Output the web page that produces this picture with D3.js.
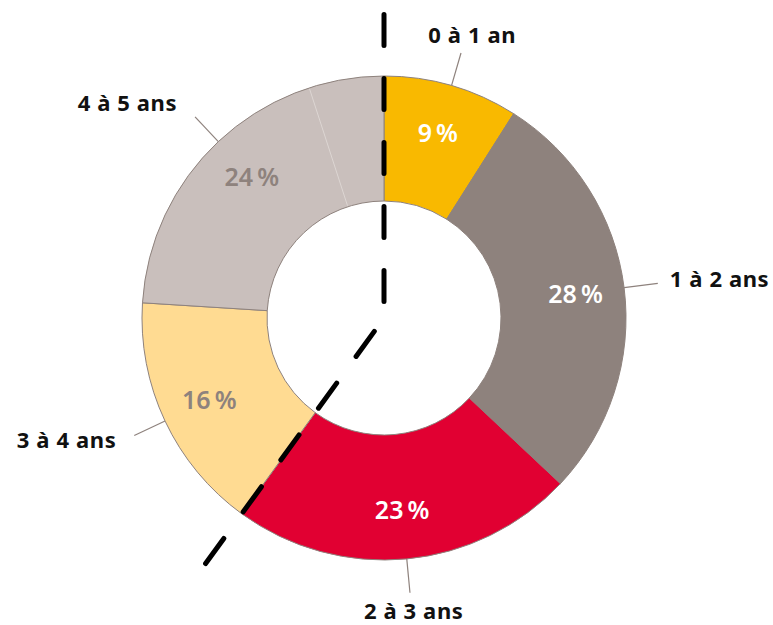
<!DOCTYPE html>
<html>
<head>
<meta charset="utf-8">
<script src="https://cdn.jsdelivr.net/npm/d3@7"></script>
<style>
  body { margin: 0; background: #fff; }
  svg { display: block; }
</style>
</head>
<body>
<svg id="chart" width="773" height="625"></svg>
<script>
// tranches d'age et parts (%)
var categories = ['0 à 1 an', '1 à 2 ans', '2 à 3 ans', '3 à 4 ans', '4 à 5 ans'];
var values = [9, 28, 23, 16, 24];
var colors = ['#f9b900', '#8e827d', '#e10032', '#ffdb92', '#c9bfbc'];
var labelColors = ['#fff', '#fff', '#fff', '#8e827d', '#8e827d'];
// la tranche 4 a 5 ans est en deux morceaux (trait clair)
var split45 = [19, 5];
// trait pointille : debut de la 1re tranche et fin de la 3e
var rayBounds = [0, 3];

var W = 773, H = 625;
var cx = 384, cy = 318;
var R = 242, r0 = 117;

var svg = d3.select('#chart');
var g = svg.append('g').attr('transform', 'translate(' + cx + ',' + cy + ')');

var pie = d3.pie().sort(null).value(function(d){ return d; });
var arcs = pie(values);
var arc = d3.arc().innerRadius(r0).outerRadius(R);

function pt(a, rad){ return [rad * Math.sin(a), -rad * Math.cos(a)]; }

g.selectAll('path.slice').data(arcs).enter().append('path')
	.attr('class', 'slice')
	.attr('d', arc)
	.attr('fill', function(d, i){ return colors[i]; })
	.attr('stroke', '#8e827d')
	.attr('stroke-width', 1);

// separateur clair dans 4 a 5 ans
var a45 = arcs[4];
var aSplit = a45.startAngle + (a45.endAngle - a45.startAngle) * split45[0] / d3.sum(split45);
var p1 = pt(aSplit, r0 + 1), p2 = pt(aSplit, R - 1);
g.append('line')
	.attr('x1', p1[0]).attr('y1', p1[1]).attr('x2', p2[0]).attr('y2', p2[1])
	.attr('stroke', '#ddd6d3').attr('stroke-width', 1);

// pourcentages
var labelArc = d3.arc().innerRadius(193).outerRadius(193);
g.selectAll('text.pct').data(arcs).enter().append('text')
	.attr('class', 'pct')
	.attr('x', function(d){ return labelArc.centroid(d)[0]; })
	.attr('y', function(d){ return labelArc.centroid(d)[1]; })
	.attr('dy', '0.36em')
	.attr('text-anchor', 'middle')
	.attr('font-family', 'Noto Sans, sans-serif')
	.attr('font-weight', 600)
	.attr('font-size', 25)
	.attr('fill', function(d, i){ return labelColors[i]; })
	.text(function(d){ return d.data + '\u202f%'; });

// reperes et etiquettes
var leadIn = R, leadOut = 276;
arcs.forEach(function(d, i){
	var a = (d.startAngle + d.endAngle) / 2;
	var s = pt(a, leadIn), e = pt(a, leadOut);
	g.append('line')
		.attr('x1', s[0]).attr('y1', s[1]).attr('x2', e[0]).attr('y2', e[1])
		.attr('stroke', '#8e827d').attr('stroke-width', 1.2);

	var sn = Math.sin(a), cs = Math.cos(a);
	var tx, ty, anchor;
	if (Math.abs(sn) > 0.3) {
		anchor = sn > 0 ? 'start' : 'end';
		tx = e[0] + (sn > 0 ? 12 : -18);
		ty = e[1] + 6 - 16 * cs;
	} else {
		anchor = 'middle';
		tx = e[0] + 8 * sn + (cs > 0 ? 9 : 3);
		ty = cs > 0 ? e[1] - 10 : e[1] + 26;
	}
	g.append('text')
		.attr('x', tx).attr('y', ty)
		.attr('text-anchor', anchor)
		.attr('font-family', 'Noto Sans, sans-serif')
		.attr('font-weight', 700)
		.attr('font-size', 22)
		.attr('letter-spacing', 0.6)
		.attr('fill', '#111')
		.text(categories[i]);
});

// trait pointille
var rayAngles = [arcs[rayBounds[0]].startAngle, arcs[rayBounds[1] - 1].endAngle];
var rayLen = 303.5;
g.selectAll('line.ray').data(rayAngles).enter().append('line')
	.attr('class', 'ray')
	.attr('x1', 0).attr('y1', 0)
	.attr('x2', function(a){ return pt(a, rayLen)[0]; })
	.attr('y2', function(a){ return pt(a, rayLen)[1]; })
	.attr('stroke', '#000')
	.attr('stroke-width', 5)
	.attr('stroke-linecap', 'round')
	.attr('stroke-dasharray', '31 33')
	.attr('stroke-dashoffset', 47.5);
</script>
</body>
</html>
